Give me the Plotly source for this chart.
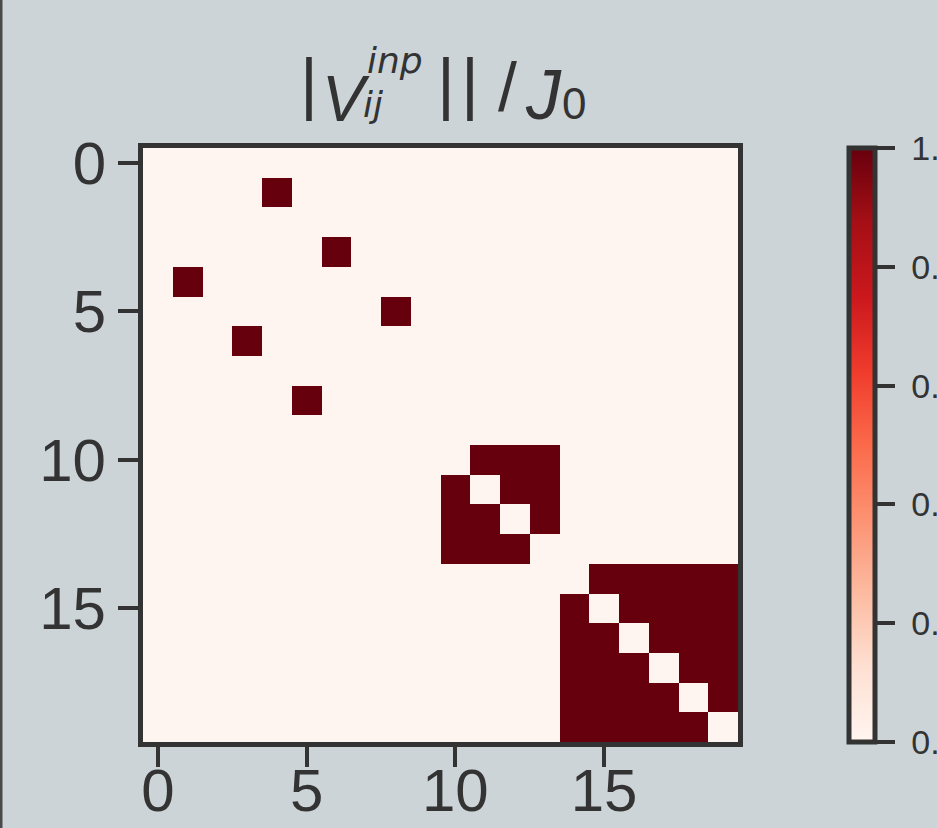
import numpy as np
import plotly.graph_objects as go
import plotly.express as px

# ---- data ----
n_nodes = 20
pair_edges = [(1, 4), (3, 6), (5, 8)]          # isolated couplings (row, col), symmetric
clique_a = [10, 11, 12, 13]                      # fully connected block
clique_b = [14, 15, 16, 17, 18, 19]              # fully connected block
axis_ticks = [0, 5, 10, 15]
cbar_ticks = [0.0, 0.2, 0.4, 0.6, 0.8, 1.0]
cbar_ticktext = ["0.0", "0.2", "0.4", "0.6", "0.8", "1.0"]

z = np.zeros((n_nodes, n_nodes))
for i, j in pair_edges:
    z[i, j] = 1.0
    z[j, i] = 1.0
for block in (clique_a, clique_b):
    for i in block:
        for j in block:
            if i != j:
                z[i, j] = 1.0

# ---- layout geometry (pixels) ----
W, H = 937, 828
L, R, T, B = 143, 738, 148, 742
def px_x(p):
    return (p - L) / (R - L)
def px_y(p):
    return (B - p) / (B - T)

ink = "#333333"
bg = "#ccd4d8"
sans = "Liberation Sans, Arial"
dejavu = "DejaVu Sans"

fig = go.Figure(go.Heatmap(
    z=z, x=list(range(n_nodes)), y=list(range(n_nodes)),
    colorscale=px.colors.sequential.Reds, zmin=0, zmax=1,
    colorbar=dict(
        xref="container", x=849 / W, xanchor="left", xpad=0,
        yref="paper", y=0.5, yanchor="middle", ypad=0,
        lenmode="pixels", len=B - T, thickness=26,
        outlinewidth=5, outlinecolor=ink,
        tickvals=cbar_ticks, ticktext=["\u00a0" + t for t in cbar_ticktext],
        ticks="outside", ticklen=18, tickwidth=4, tickcolor=ink,
        tickfont=dict(family=sans, size=34, color=ink),
    ),
))

axis_common = dict(
    tickvals=axis_ticks, ticks="outside", ticklen=20, tickwidth=4, tickcolor=ink,
    showline=True, linewidth=5, linecolor=ink, mirror=True,
    showgrid=False, zeroline=False,
    tickfont=dict(family=sans, size=60, color=ink),
)
fig.update_xaxes(range=[-0.5, n_nodes - 0.5], ticklabelstandoff=-28, **axis_common)
fig.update_yaxes(range=[n_nodes - 0.5, -0.5], **axis_common)

# ---- title, built from pieces so the super/subscripts stack ----
# (text, left px, baseline px, size, family, descent em)
title_parts = [
    ("|", 299, 108, 69, sans, 0.212),
    ("<i>V</i>", 321, 122, 64, sans, 0.212),
    ("<i>inp</i>", 366, 74, 36, dejavu, 0.236),
    ("<i>ij</i>", 362, 118, 36, dejavu, 0.236),
    ("|", 436, 108, 69, sans, 0.212),
    ("|", 460, 108, 69, sans, 0.212),
    ("/", 497, 112, 68, sans, 0.212),
    ("<i>J</i>", 524, 120, 70, sans, 0.212),
    ("0", 561, 120, 44, sans, 0.212),
]
for text, left, base, size, fam, desc in title_parts:
    fig.add_annotation(text=text, x=px_x(left), y=px_y(base + desc * size),
                       xref="paper", yref="paper", xanchor="left", yanchor="bottom",
                       showarrow=False, borderpad=0,
                       font=dict(family=fam, size=size, color=ink))

# left edge dark line
fig.add_shape(type="line", xref="paper", yref="paper",
              x0=px_x(1), x1=px_x(1), y0=px_y(H + 5), y1=px_y(-5),
              line=dict(color="#4a4a4a", width=3))

fig.update_layout(
    width=W, height=H,
    margin=dict(l=L, r=W - R, t=T, b=H - B, autoexpand=False),
    paper_bgcolor=bg, plot_bgcolor=bg,
    showlegend=False,
)
fig.write_html("out.html", config={"displayModeBar": False},
               post_script="document.body.style.margin='0';")
